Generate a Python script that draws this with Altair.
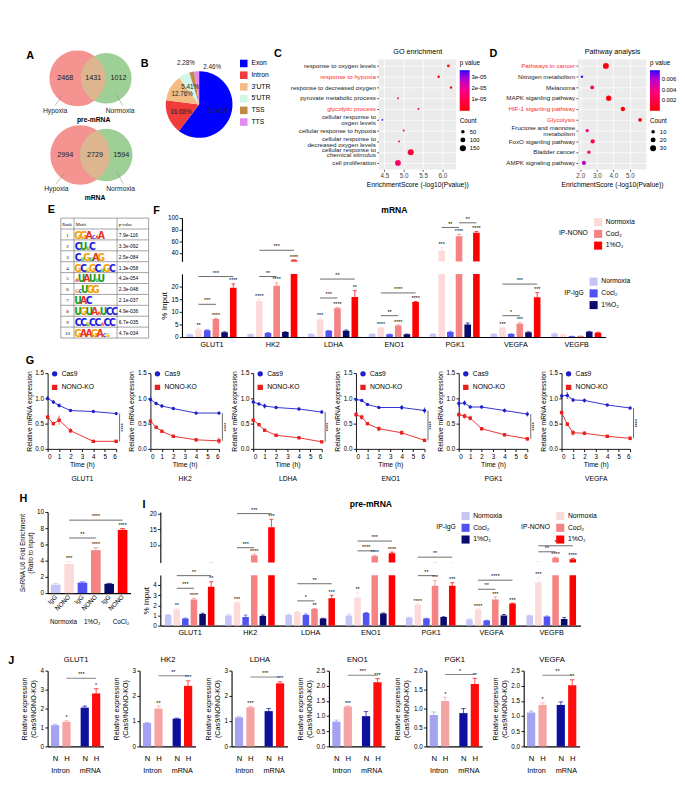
import json
import numpy as np
import pandas as pd
import altair as alt

FONT = "Liberation Sans"
NARROW = "Liberation Sans Narrow, DejaVu Sans Condensed, Liberation Sans, sans-serif"
SERIF = "Liberation Serif"
NB = "\u00a0"

# ======================= DATA =======================
venn_sets = ["Hypoxia", "Normoxia"]
venn_titles = ["pre-mRNA", "mRNA"]
venn_counts = [[2468, 1431, 1012], [2994, 2729, 1594]]

pie_features = ["Exon", "Intron", "3'UTR", "5'UTR", "TSS", "TTS"]
pie_pct = [60.41, 16.68, 12.76, 5.41, 2.28, 2.46]

go_terms = [
    "response to oxygen levels", "response to hypoxia", "response to decreased oxygen",
    "pyruvate metabolic process", "glycolytic process", "cellular response to|oxgen levels",
    "cellular response to hypoxia", "cellular response to|decreased oxygen levels",
    "cellular response to|chemical stimulus", "cell proliferation",
]
go_score = [6.15, 5.90, 6.22, 4.85, 5.38, 4.45, 5.00, 4.88, 5.18, 4.85]
go_count = [24, 22, 22, 12, 12, 10, 13, 13, 150, 135]
go_pvalue = [1e-7, 3e-7, 1e-7, 1.4e-5, 5e-6, 3.5e-5, 8e-6, 1.2e-5, 6e-6, 1.4e-5]
go_highlight = ["response to hypoxia", "glycolytic process"]

kegg_terms = [
    "Pathways in cancer", "Nitrogen metabolism", "Melanoma", "MAPK siganling pathway",
    "HIF-1 siganling pathway", "Glycolysis", "Fructose and mannose|metabolism",
    "FoxO siganling pathway", "Bladder cancer", "AMPK signaling pathway",
]
kegg_score = [3.55, 2.10, 2.72, 3.72, 4.58, 5.62, 2.42, 2.75, 2.52, 2.22]
kegg_count = [30, 4, 11, 24, 17, 11, 9, 15, 9, 14]
kegg_pvalue = [2.8e-4, 7.5e-3, 1.9e-3, 1.9e-4, 2.6e-5, 2.4e-6, 3.8e-3, 1.8e-3, 3.0e-3, 5.8e-3]
kegg_highlight = ["Pathways in cancer", "HIF-1 siganling pathway", "Glycolysis"]

motif_rank = [1, 2, 3, 4, 5, 6, 7, 8, 9, 10]
motif_seq = ["GGAcaA", "CUuC", "CuGuAG", "GCgGCuGC", "aUAUuU", "gcUGG", "UAC", "UGUAaUCC", "CCuCCaCC", "GAAGAcg"]
motif_pvalue = ["7.9e-116", "3.3e-092", "2.5e-084", "1.3e-058", "4.2e-054",
                "2.3e-048", "2.1e-037", "4.9e-036", "6.7e-035", "4.7e-034"]

chip_genes = ["GLUT1", "HK2", "LDHA", "ENO1", "PGK1", "VEGFA", "VEGFB"]
mrna_vals = [
    [1.0, 3.0, 2.7, 7.2, 1.9, 19.6],
    [1.1, 14.2, 1.6, 20.3, 2.0, 28.0],
    [1.2, 7.0, 2.5, 11.4, 2.5, 15.9],
    [1.2, 3.7, 1.1, 4.6, 1.1, 13.9],
    [1.2, 44.0, 2.0, 69.0, 5.0, 75.0],
    [1.2, 3.8, 1.2, 5.3, 1.9, 15.8],
    [1.3, 1.0, 0.3, 0.4, 2.1, 1.7],
]
mrna_errs = [
    [0.1, 0.4, 0.2, 0.2, 0.2, 1.5],
    [0.1, 0.8, 0.2, 1.2, 0.1, 0.6],
    [0.1, 0.3, 0.1, 0.3, 0.3, 2.5],
    [0.1, 0.1, 0.1, 0.2, 0.1, 0.2],
    [0.1, 6.0, 0.3, 3.5, 0.6, 2.0],
    [0.1, 0.2, 0.1, 0.4, 0.2, 1.8],
    [0.3, 0.1, 0.05, 0.05, 0.2, 0.2],
]
mrna_stars = [
    ["", "**", "", "****", "", "****"],
    ["", "****", "", "****", "", "****"],
    ["", "***", "", "****", "", "**"],
    ["", "****", "", "****", "", "****"],
    ["", "***", "", "****", "", "****"],
    ["", "***", "", "***", "", "***"],
    ["", "", "", "", "", ""],
]
mrna_brackets = [
    ("GLUT1", 1, 3, 13.0, "***"), ("GLUT1", 1, 5, 24.0, "***"),
    ("HK2", 1, 3, 24.0, "**"), ("HK2", 1, 5, 45.0, "***"),
    ("LDHA", 1, 3, 15.5, "***"), ("LDHA", 1, 5, 23.0, "**"),
    ("ENO1", 1, 3, 8.5, "**"), ("ENO1", 1, 5, 17.5, "****"),
    ("PGK1", 1, 3, 84.0, "**"), ("PGK1", 3, 5, 92.0, "**"),
    ("VEGFA", 1, 3, 8.5, "*"), ("VEGFA", 1, 5, 21.0, "***"),
]

decay_genes = ["GLUT1", "HK2", "LDHA", "ENO1", "PGK1", "VEGFA"]
time_h = [0, 0.5, 1, 2, 4, 6]
cas9_expr = [
    [1.00, 0.93, 0.86, 0.76, 0.74, 0.70],
    [0.98, 0.90, 0.85, 0.80, 0.71, 0.71],
    [0.93, 0.89, 0.85, 0.82, 0.79, 0.73],
    [0.98, 0.96, 0.88, 0.82, 0.82, 0.76],
    [0.90, 0.91, 0.83, 0.83, 0.76, 0.69],
    [1.05, 1.06, 0.97, 0.96, 0.87, 0.81],
]
ko_expr = [
    [0.63, 0.50, 0.57, 0.36, 0.15, 0.15],
    [0.55, 0.43, 0.35, 0.25, 0.18, 0.16],
    [0.57, 0.48, 0.37, 0.27, 0.22, 0.14],
    [0.68, 0.63, 0.50, 0.40, 0.32, 0.17],
    [0.68, 0.65, 0.61, 0.40, 0.28, 0.20],
    [0.72, 0.49, 0.32, 0.31, 0.25, 0.21],
]
cas9_err = [
    [0.05, 0.04, 0.04, 0.03, 0.02, 0.02],
    [0.06, 0.03, 0.03, 0.02, 0.03, 0.03],
    [0.04, 0.02, 0.05, 0.03, 0.03, 0.03],
    [0.02, 0.02, 0.02, 0.02, 0.05, 0.06],
    [0.07, 0.05, 0.03, 0.03, 0.04, 0.05],
    [0.05, 0.07, 0.04, 0.04, 0.02, 0.02],
]
ko_err = [
    [0.03, 0.02, 0.09, 0.05, 0.02, 0.03],
    [0.03, 0.02, 0.02, 0.02, 0.03, 0.07],
    [0.02, 0.02, 0.02, 0.02, 0.02, 0.02],
    [0.05, 0.05, 0.02, 0.05, 0.05, 0.03],
    [0.04, 0.05, 0.05, 0.03, 0.03, 0.04],
    [0.04, 0.04, 0.06, 0.04, 0.02, 0.04],
]

h_labels = ["IgG", "NONO", "IgG", "NONO", "IgG", "NONO"]
h_conditions = ["Normoxia", "1%O₂", "CoCl₂"]
h_vals = [1.05, 3.6, 1.3, 5.3, 1.15, 7.8]
h_errs = [0.15, 0.3, 0.1, 0.3, 0.05, 0.15]
h_stars = ["", "***", "", "****", "", "****"]
h_brackets = [(1, 3, 6.8, "**"), (1, 5, 9.0, "****")]

pre_vals = [
    [1.05, 1.6, 0.7, 2.6, 1.15, 3.85],
    [1.0, 2.3, 0.85, 6.8, 0.95, 15.7],
    [1.05, 1.35, 1.05, 1.65, 0.7, 2.7],
    [1.0, 2.75, 1.25, 6.5, 1.2, 7.4],
    [0.8, 2.1, 0.7, 3.95, 0.85, 3.95],
    [0.6, 1.6, 0.5, 2.6, 1.0, 2.2],
    [1.0, 4.3, 0.9, 6.0, 0.65, 5.5],
]
pre_errs = [
    [0.05, 0.1, 0.05, 0.1, 0.08, 0.5],
    [0.1, 0.05, 0.2, 0.4, 0.1, 2.5],
    [0.1, 0.05, 0.1, 0.05, 0.03, 0.3],
    [0.15, 0.5, 0.05, 0.2, 0.05, 0.4],
    [0.02, 0.05, 0.03, 0.5, 0.03, 0.3],
    [0.05, 0.05, 0.03, 0.25, 0.1, 0.03],
    [0.03, 0.5, 0.05, 0.2, 0.15, 0.3],
]
pre_stars = [
    ["", "**", "", "****", "", "**"],
    ["", "***", "", "****", "", "***"],
    ["", "", "", "**", "", "***"],
    ["", "**", "", "****", "", "****"],
    ["", "****", "", "***", "", "***"],
    ["", "****", "", "***", "", "***"],
    ["", "***", "", "****", "", "****"],
]
pre_brackets = [
    ("GLUT1", 1, 3, 3.7, "***"), ("GLUT1", 1, 5, 4.95, "**"),
    ("HK2", 1, 3, 9.2, "***"), ("HK2", 1, 5, 20.0, "***"),
    ("LDHA", 1, 3, 2.45, "*"), ("LDHA", 1, 5, 4.15, "**"),
    ("ENO1", 1, 3, 8.2, "****"), ("ENO1", 1, 5, 11.3, "***"),
    ("PGK1", 1, 3, 4.95, "**"), ("PGK1", 1, 5, 6.2, "**"),
    ("VEGFA", 1, 3, 3.6, "**"), ("VEGFA", 1, 5, 4.5, "****"),
    ("VEGFB", 1, 3, 7.9, "**"), ("VEGFB", 1, 5, 9.8, "*"),
]

ratio_genes = ["GLUT1", "HK2", "LDHA", "ENO1", "PGK1", "VEGFA"]
ratio_groups = ["Intron", "mRNA"]
ratio_bar_labels = ["N", "H", "N", "H"]
ratio_vals = [
    [1.12, 1.30, 2.05, 2.80],
    [0.93, 1.50, 1.10, 2.40],
    [1.15, 1.55, 1.40, 2.50],
    [0.82, 1.32, 1.00, 2.12],
    [0.83, 1.20, 0.88, 1.65],
    [1.12, 1.37, 1.37, 2.02],
]
ratio_errs = [
    [0.05, 0.06, 0.08, 0.25],
    [0.02, 0.10, 0.02, 0.20],
    [0.03, 0.03, 0.10, 0.06],
    [0.05, 0.02, 0.15, 0.12],
    [0.08, 0.10, 0.12, 0.15],
    [0.05, 0.07, 0.10, 0.18],
]
ratio_stars = [
    ["", "*", "", "*"], ["", "**", "", "***"], ["", "***", "", "***"],
    ["", "***", "", "***"], ["", "*", "", "**"], ["", "*", "", "**"],
]
ratio_brackets = [(3.6, "***"), (2.8, "**"), (2.75, "***"), (2.35, "***"), (1.9, "*"), (2.35, "**")]
ratio_ymax = [4, 3, 3, 2.5, 2.0, 2.5]
ratio_ticks = [[0, 1, 2, 3, 4], [0, 1, 2, 3], [0, 1, 2, 3],
               [0, 0.5, 1, 1.5, 2, 2.5], [0, 0.5, 1, 1.5, 2], [0, 0.5, 1, 1.5, 2, 2.5]]

# ======================= STYLE =======================
PIE_COLORS = ["#0000FF", "#F23B3B", "#F4BB85", "#CFF6E6", "#BF8A47", "#E38BF2"]
VENN_PINK, VENN_GREEN, VENN_MIX = "#F4938F", "#9ECF96", "#DDB58F"
IGG_COLORS = ["#C4C4F7", "#5252F2", "#0B0B6E"]
NONO_COLORS = ["#FCDADA", "#F58383", "#FF0000"]
COND_NAMES = ["Normoxia", "Cocl₂", "1%O₂"]
IGG_NAMES = [c + NB for c in COND_NAMES]
BAR_LAYOUT = [("IgG", 0), ("NONO", 0), ("IgG", 1), ("NONO", 1), ("IgG", 2), ("NONO", 2)]
H_COLORS = ["#C4C4F7", "#FCDADA", "#5252F2", "#F58383", "#0B0B6E", "#FF0000"]
J_COLORS = ["#A3A3F2", "#F5A3A3", "#0F0F9E", "#FF0D0D"]
G_BLUE, G_RED = "#1E1ECC", "#E8201E"
LETTER_COLORS = {"A": "#E8321E", "C": "#1C1CE0", "G": "#F5A000", "U": "#1B9E1B"}
VENN_GEOM = [(47, 31, 79, 28, 33), (50, 33, 79, 29, 118)]
GROUP_STEP = 7
J_STEP = 2.6


def letter(text, offset=2, left=False):
    if left:
        return alt.TitleParams(text, orient="left", angle=0, anchor="end", align="right", baseline="top",
                               frame="bounds", fontSize=12, fontWeight="bold", font=FONT, color="black",
                               offset=offset)
    return alt.TitleParams(text, anchor="start", frame="bounds", fontSize=12,
                           fontWeight="bold", font=FONT, color="black", offset=offset)


def top_title_axis(text, size=8, weight="normal", pad=3):
    return alt.Axis(orient="top", title=text, labels=False, ticks=False, domain=False, grid=False,
                    titleFontSize=size, titleFontWeight=weight, titlePadding=pad)


# ======================= A =======================
def panel_a():
    X0, W, Y0, H = 14, 115, 12, 166
    xs = alt.Scale(domain=[X0, W], nice=False, zero=False)
    ys = alt.Scale(domain=[Y0, H], nice=False, zero=False, reverse=True)
    pink, green, lens, texts, leaders = [], [], [], [], []
    for k, (cx1, r1, cx2, r2, cy) in enumerate(VENN_GEOM):
        for cx, r, store in ((cx1, r1, pink), (cx2, r2, green)):
            t = np.linspace(-r, r, 120)
            w = np.sqrt(np.clip(r * r - t * t, 0, None))
            store += [{"venn": k, "y": cy + a, "x1": cx - b, "x2": cx + b} for a, b in zip(t, w)]
        x0 = (r1 ** 2 - r2 ** 2 + cx2 ** 2 - cx1 ** 2) / (2 * (cx2 - cx1))
        h = np.sqrt(r1 ** 2 - (x0 - cx1) ** 2)
        t = np.linspace(-h, h, 120)
        xl = cx2 - np.sqrt(np.clip(r2 * r2 - t * t, 0, None))
        xr = cx1 + np.sqrt(np.clip(r1 * r1 - t * t, 0, None))
        lens += [{"venn": k, "y": cy + a, "x1": b, "x2": c} for a, b, c in zip(t, xl, xr)]
        c = venn_counts[k]
        texts += [
            {"x": ((cx1 - r1) + (cx2 - r2)) / 2, "y": cy, "t": str(c[0]), "kind": "n"},
            {"x": ((cx2 - r2) + (cx1 + r1)) / 2, "y": cy, "t": str(c[1]), "kind": "n"},
            {"x": ((cx1 + r1) + (cx2 + r2)) / 2, "y": cy, "t": str(c[2]), "kind": "n"},
            {"x": cx1 - 0.8 * r1, "y": cy + r1 + 5, "t": venn_sets[0], "kind": "s"},
            {"x": cx2 + 0.55 * r2, "y": cy + r1 + 5, "t": venn_sets[1], "kind": "s"},
            {"x": (cx1 + cx2) / 2 + 2, "y": cy + r1 + 15, "t": venn_titles[k], "kind": "b"},
        ]
        leaders += [
            {"x": cx1 - 0.55 * r1, "y": cy + 0.62 * r1, "x2": cx1 - 0.8 * r1, "y2": cy + r1 - 1},
            {"x": cx2 + 0.4 * r2, "y": cy + 0.65 * r2, "x2": cx2 + 0.65 * r2, "y2": cy + r1 - 1},
        ]

    def area(rows, color):
        return alt.Chart(pd.DataFrame(rows)).mark_area(orient="horizontal", color=color, opacity=1).encode(
            y=alt.Y("y:Q", scale=ys, axis=None), x=alt.X("x1:Q", scale=xs, axis=None),
            x2="x2:Q", detail="venn:N")

    tdf = pd.DataFrame(texts)
    enc = dict(x=alt.X("x:Q", scale=xs, axis=None), y=alt.Y("y:Q", scale=ys, axis=None), text="t:N")
    t_n = alt.Chart(tdf).transform_filter("datum.kind == 'n'").mark_text(fontSize=8, color="#222").encode(**enc)
    t_s = alt.Chart(tdf).transform_filter("datum.kind == 's'").mark_text(fontSize=7.5, color="#222").encode(**enc)
    t_b = alt.Chart(tdf).transform_filter("datum.kind == 'b'").mark_text(fontSize=7.5, fontWeight="bold").encode(**enc)
    rules = alt.Chart(pd.DataFrame(leaders)).mark_rule(color="#8a8a8a", strokeWidth=0.6).encode(
        x=alt.X("x:Q", scale=xs, axis=None), y=alt.Y("y:Q", scale=ys, axis=None), x2="x2:Q", y2="y2:Q")
    return alt.layer(area(pink, VENN_PINK), area(green, VENN_GREEN), area(lens, VENN_MIX),
                     rules, t_n, t_s, t_b).properties(width=W - X0, height=H - Y0, title=letter("A", 1, True))


# ======================= B =======================
def panel_b():
    df = pd.DataFrame({"feature": pie_features, "pct": pie_pct, "order": range(len(pie_features))})
    base = alt.Chart(df).transform_calculate(
        inner="datum.pct > 4 ? format(datum.pct, '.2f') + '%' : ''",
        tss="datum.feature == 'TSS' ? format(datum.pct, '.2f') + '%' : ''",
        tts="datum.feature == 'TTS' ? format(datum.pct, '.2f') + '%' : ''",
    ).encode(theta=alt.Theta("pct:Q", stack=True), order=alt.Order("order:Q", sort="ascending"))
    arcs = base.mark_arc(outerRadius=37).encode(
        color=alt.Color("feature:N", scale=alt.Scale(domain=pie_features, range=PIE_COLORS),
                        legend=alt.Legend(title=None, orient="right", symbolType="square", symbolSize=70,
                                          symbolStrokeWidth=0, labelFontSize=7.5, rowPadding=4, offset=6)))
    lab_in = base.mark_text(radius=22, fontSize=7, color="#222").encode(text="inner:N")
    lab_tss = base.mark_text(radius=47, fontSize=7, color="#222", dx=-4).encode(text="tss:N")
    lab_tts = base.mark_text(radius=46, fontSize=7, color="#222", dx=18, dy=4).encode(text="tts:N")
    return alt.layer(arcs, lab_in, lab_tss, lab_tts).properties(width=78, height=100, title=letter("B", 0, True))


# ======================= C / D =======================
def dot_panel(letter_txt, title, terms, score, count, pvals, highlight, xdom, xticks,
              size_dom, size_rng, size_vals, p_dom, p_vals, p_expr, width, height):
    df = pd.DataFrame({"term": terms, "score": score, "count": count, "p": pvals})
    test = " || ".join("datum.value == " + json.dumps(t) for t in highlight)
    xs = alt.Scale(domain=xdom, nice=False, zero=False)
    Y = alt.Y("term:N", sort=terms, scale=alt.Scale(padding=0.6),
              axis=alt.Axis(title=None, labelExpr="split(datum.label, '|')",
                            labelColor={"condition": {"test": test, "value": "#FF2A2A"}, "value": "#222222"},
                            labelOffset={"condition": {"test": "indexof(datum.value, '|') >= 0", "value": -3.2},
                                         "value": 0},
                            labelFontSize=6.9, labelLimit=220, labelLineHeight=6.6, grid=True,
                            gridColor="white", gridWidth=0.8, domain=False, tickColor="#444", tickSize=2))
    pts = alt.Chart(df).mark_circle(opacity=1).encode(
        x=alt.X("score:Q", scale=xs,
                axis=alt.Axis(values=xticks, format=".1f", title="EnrichmentScore (-log10(Pvalue))",
                              grid=True, gridColor="white", gridWidth=0.8, domain=False, tickColor="#444",
                              tickSize=2, labelColor="#444", labelFontSize=7, titleFontSize=7.5)),
        y=Y,
        size=alt.Size("count:Q", scale=alt.Scale(domain=size_dom, range=size_rng),
                      legend=alt.Legend(title="Count", values=size_vals, symbolFillColor="black",
                                        symbolStrokeWidth=0, symbolType="circle", labelFontSize=6.5,
                                        titleFontSize=7, orient="right", offset=4, rowPadding=2)),
        color=alt.Color("p:Q", scale=alt.Scale(domain=p_dom, range=["#FF0000", "#0000FF"]),
                        legend=alt.Legend(title="p value", values=p_vals, labelExpr=p_expr, gradientLength=45,
                                          gradientThickness=11, labelFontSize=6.5, titleFontSize=7,
                                          orient="right", offset=4)),
    )
    ttl = alt.Chart(df).mark_point(opacity=0).encode(
        x=alt.X("score:Q", scale=xs, axis=top_title_axis(title, 8, "normal", 4)), y=Y)
    return alt.layer(pts, ttl).resolve_axis(x="independent").properties(
        width=width, height=height, view=alt.ViewBackground(fill="#EBEBEB", stroke=None),
        title=letter(letter_txt, 1, True))


# ======================= E =======================
def panel_e():
    cols = [0, 15, 64, 100]
    nrow = len(motif_rank) + 1
    xs = alt.Scale(domain=[-15, 100], nice=False, zero=False)
    ys = alt.Scale(domain=[0, nrow], nice=False, zero=False, reverse=True)
    X = lambda f: alt.X(f + ":Q", scale=xs, axis=None)
    Y = lambda f: alt.Y(f + ":Q", scale=ys, axis=None)
    hl = pd.DataFrame({"y": list(range(nrow + 1)), "x": cols[0], "x2": cols[-1]})
    vl = pd.DataFrame({"x": cols, "y": 0, "y2": nrow})
    head = pd.DataFrame({"x": [cols[0] + 1.5, cols[1] + 2, cols[2] + 2], "y": 0.55,
                         "t": ["Rank", "Motif", "p-value"]})
    rows = pd.DataFrame({"rank": [str(r) for r in motif_rank], "p": motif_pvalue,
                         "y": [i + 1.55 for i in range(len(motif_rank))],
                         "xr": (cols[0] + cols[1]) / 2, "xp": cols[2] + 2})
    letters = []
    for i, seq in enumerate(motif_seq):
        x = cols[1] + 1.5
        for chh in seq:
            big = chh.isupper()
            w = 6.3 if big else 3.8
            letters.append({"x": x + w / 2, "y": i + 1.9, "ch": chh.upper(), "big": big,
                            "col": LETTER_COLORS[chh.upper()]})
            x += w
    ldf = pd.DataFrame(letters)
    layers = [
        alt.Chart(hl).mark_rule(color="#555", strokeWidth=0.6).encode(x=X("x"), x2="x2:Q", y=Y("y")),
        alt.Chart(vl).mark_rule(color="#555", strokeWidth=0.6).encode(x=X("x"), y=Y("y"), y2="y2:Q"),
        alt.Chart(head).mark_text(font=SERIF, fontSize=5, align="left", baseline="middle").encode(
            x=X("x"), y=Y("y"), text="t:N"),
        alt.Chart(rows).mark_text(font=SERIF, fontSize=5.5, baseline="middle").encode(
            x=X("xr"), y=Y("y"), text="rank:N"),
        alt.Chart(rows).mark_text(fontSize=5.5, align="left", baseline="middle").encode(
            x=X("xp"), y=Y("y"), text="p:N"),
        alt.Chart(ldf).transform_filter("datum.big").mark_text(
            font=NARROW, fontSize=11.5, fontWeight="bold", baseline="alphabetic").encode(
            x=X("x"), y=Y("y"), text="ch:N", color=alt.Color("col:N", scale=None)),
        alt.Chart(ldf).transform_filter("!datum.big").mark_text(
            font=NARROW, fontSize=5.5, fontWeight="bold", baseline="alphabetic").encode(
            x=X("x"), y=Y("y"), text="ch:N", color=alt.Color("col:N", scale=None)),
    ]
    return alt.layer(*layers).properties(width=112, height=133, title=letter("E", 2))


# ======================= F / I (broken axis bars) =======================
def broken_bar(letter_txt, genes, vals, errs, stars, brackets, up_dom, lo_dom, up_ticks, lo_ticks,
               up_h, lo_h, width, gap, title, up_legends, lo_legends):
    recs = []
    for gi in range(len(genes)):
        for b, (grp, ci) in enumerate(BAR_LAYOUT):
            pos = gi * GROUP_STEP + b
            v, e = vals[gi][b], errs[gi][b]
            recs.append(dict(pos=pos, x1=pos - 0.38, x2=pos + 0.38, cl=pos - 0.22, cr=pos + 0.22,
                             v=v, top=v + e, zero=0.0, grp=grp, cond=COND_NAMES[ci], icond=IGG_NAMES[ci],
                             col=(IGG_COLORS if grp == "IgG" else NONO_COLORS)[ci], star=stars[gi][b]))
    df = pd.DataFrame(recs)
    brk = pd.DataFrame([dict(x1=genes.index(g) * GROUP_STEP + b1, x2=genes.index(g) * GROUP_STEP + b2,
                             xm=genes.index(g) * GROUP_STEP + (b1 + b2) / 2, y=lvl, lab=lab)
                        for g, b1, b2, lvl, lab in brackets])
    split = lo_dom[1]
    xs = alt.Scale(domain=[-0.9, GROUP_STEP * len(genes) - 1.1], nice=False, zero=False)
    centers = [gi * GROUP_STEP + 2.5 for gi in range(len(genes))]
    lab_expr = json.dumps(genes) + "[round((datum.value - 2.5) / %d)]" % GROUP_STEP

    def segment(dom, ticks, h, upper):
        ys = alt.Scale(domain=dom, nice=False, zero=False)
        if upper:
            xaxis = None
            yaxis = alt.Axis(values=ticks, title=None, domainWidth=1.2, labelFontSize=7)
            keep, bkeep = "datum.top > %g" % split, "datum.y > %g" % split
            leg_n, leg_i = up_legends
        else:
            xaxis = alt.Axis(values=centers, labelExpr=lab_expr, title=None, ticks=False, labelFontSize=8,
                             labelPadding=4, domainWidth=1.2)
            yaxis = alt.Axis(values=ticks, title="% Input", titleFontSize=9, domainWidth=1.2, labelFontSize=7)
            keep, bkeep = "datum.top <= %g" % split, "datum.y <= %g" % split
            leg_n, leg_i = lo_legends
        X = lambda f, ax=None: alt.X(f + ":Q", scale=xs, axis=ax)
        Y = lambda f: alt.Y(f + ":Q", scale=ys, axis=yaxis)
        base = alt.Chart(df)
        igg = base.transform_filter("datum.grp == 'IgG'").mark_bar(clip=True).encode(
            x=X("x1", xaxis), x2="x2:Q", y=Y("v"), y2="zero:Q",
            fill=alt.Fill("icond:N", scale=alt.Scale(domain=IGG_NAMES, range=IGG_COLORS), legend=leg_i))
        nono = base.transform_filter("datum.grp == 'NONO'").mark_bar(clip=True).encode(
            x=X("x1"), x2="x2:Q", y=Y("v"), y2="zero:Q",
            color=alt.Color("cond:N", scale=alt.Scale(domain=COND_NAMES, range=NONO_COLORS), legend=leg_n))
        ebar = base.mark_rule(clip=True, strokeWidth=0.8).encode(
            x=X("pos"), y=Y("v"), y2="top:Q", stroke=alt.Stroke("col:N", scale=None))
        caps = base.mark_rule(clip=True, strokeWidth=0.8).encode(
            x=X("cl"), x2="cr:Q", y=Y("top"), stroke=alt.Stroke("col:N", scale=None))
        st = base.transform_filter("datum.star != '' && " + keep).mark_text(
            fontSize=6, baseline="bottom", dy=-0.5).encode(x=X("pos"), y=Y("top"), text="star:N")
        bsub = alt.Chart(brk).transform_filter(bkeep)
        brule = bsub.mark_rule(strokeWidth=0.8, color="#333").encode(x=X("x1"), x2="x2:Q", y=Y("y"))
        btxt = bsub.mark_text(fontSize=6, baseline="bottom", dy=-1).encode(x=X("xm"), y=Y("y"), text="lab:N")
        layers = [igg, nono, ebar, caps, st, brule, btxt]
        if upper:
            layers.append(base.mark_bar(opacity=0, clip=True).encode(
                x=X("x1", top_title_axis(title, 9.5, "bold", 4)), x2="x2:Q", y=Y("v"), y2="zero:Q"))
        ch = alt.layer(*layers).resolve_axis(x="independent").properties(width=width, height=h)
        if upper:
            ch = ch.properties(title=letter(letter_txt, 1, True))
        return ch

    up = segment(up_dom, up_ticks, up_h, True)
    lo = segment(lo_dom, lo_ticks, lo_h, False)
    return alt.vconcat(up, lo, spacing=gap).resolve_scale(
        color="independent", fill="independent").resolve_legend(color="independent", fill="independent")


def legend_box(title, x, y):
    return alt.Legend(title=title, orient="none", legendX=x, legendY=y, titleOrient="left",
                      titleAnchor="middle", symbolType="square", symbolSize=80, symbolStrokeWidth=0,
                      labelFontSize=7.5, titleFontSize=7.5, titleFontWeight="normal", rowPadding=4,
                      titlePadding=6)


# ======================= G =======================
def panel_g(k):
    recs = []
    for grp, vals, errs in (("Cas9", cas9_expr[k], cas9_err[k]), ("NONO-KO", ko_expr[k], ko_err[k])):
        for t, v, e in zip(time_h, vals, errs):
            recs.append({"group": grp, "t": t, "v": v, "lo": v - e, "hi": v + e})
    df = pd.DataFrame(recs)
    xs = alt.Scale(domain=[0, 6], nice=False, zero=False)
    ys = alt.Scale(domain=[0, 1.5], nice=False)
    xaxis = alt.Axis(values=list(range(7)), format="d", title=["Time (h)", decay_genes[k]], titlePadding=2,
                     titleLineHeight=16, titleFontSize=7.5)
    yaxis = alt.Axis(values=[0, 0.5, 1.0, 1.5], format=".1f", title="Relative mRNA expression", titlePadding=2)
    leg = alt.Legend(title=None, orient="none", legendX=4, legendY=-3, labelFontSize=7.5, symbolSize=20,
                     rowPadding=4)
    cscale = alt.Scale(domain=["Cas9", "NONO-KO"], range=[G_BLUE, G_RED])
    X = lambda f: alt.X(f + ":Q", scale=xs, axis=xaxis)
    Y = lambda f: alt.Y(f + ":Q", scale=ys, axis=yaxis)
    base = alt.Chart(df)
    line = base.mark_line(strokeWidth=1).encode(x=X("t"), y=Y("v"),
                                                color=alt.Color("group:N", scale=cscale, legend=leg))
    err = base.mark_rule(strokeWidth=0.8).encode(x=X("t"), y=Y("lo"), y2="hi:Q",
                                                 color=alt.Color("group:N", scale=cscale, legend=leg))
    pts = base.mark_point(filled=True, size=14, opacity=1).encode(
        x=X("t"), y=Y("v"), color=alt.Color("group:N", scale=cscale, legend=leg),
        shape=alt.Shape("group:N", scale=alt.Scale(domain=["Cas9", "NONO-KO"], range=["circle", "square"]),
                        legend=leg))
    last = max(time_h)
    sig = pd.DataFrame({"x": [last + 0.3], "xt": [last + 0.6], "lo": [ko_expr[k][-1]],
                        "hi": [cas9_expr[k][-1]], "mid": [(ko_expr[k][-1] + cas9_expr[k][-1]) / 2],
                        "t": ["****"]})
    srule = alt.Chart(sig).mark_rule(strokeWidth=0.8, color="#333").encode(x=X("x"), y=Y("lo"), y2="hi:Q")
    stext = alt.Chart(sig).mark_text(angle=270, fontSize=6).encode(x=X("xt"), y=Y("mid"), text="t:N")
    ch = alt.layer(line, err, pts, srule, stext).properties(width=76, height=84)
    if k == 0:
        ch = ch.properties(title=letter("G", 3))
    return ch


# ======================= H =======================
def panel_h():
    n = len(h_vals)
    df = pd.DataFrame({"pos": range(n), "x1": [p - 0.36 for p in range(n)], "x2": [p + 0.36 for p in range(n)],
                       "cl": [p - 0.2 for p in range(n)], "cr": [p + 0.2 for p in range(n)],
                       "v": h_vals, "top": [v + e for v, e in zip(h_vals, h_errs)], "zero": 0.0,
                       "col": H_COLORS, "star": h_stars})
    brk = pd.DataFrame([{"x1": a, "x2": b, "xm": (a + b) / 2, "y": y, "lab": lab} for a, b, y, lab in h_brackets])
    xs = alt.Scale(domain=[-0.6, n - 0.4], nice=False, zero=False)
    ys = alt.Scale(domain=[0, 10], nice=False)
    htitle = h_conditions[0] + NB * 4 + h_conditions[1] + NB * 7 + h_conditions[2]
    xaxis = alt.Axis(values=list(range(n)), labelExpr=json.dumps(h_labels) + "[datum.value]", labelAngle=-45,
                     labelAlign="right", labelBaseline="middle", ticks=False, labelPadding=3, labelFontSize=7,
                     labelOverlap=False, title=htitle, titleFontSize=7, titlePadding=8, domainWidth=1.2)
    yaxis = alt.Axis(values=[0, 2, 4, 6, 8, 10], title=["SnRNA U6 Fold Enrichment", "(Ratio to input)"],
                     titleFontSize=7, domainWidth=1.2)
    X = lambda f: alt.X(f + ":Q", scale=xs, axis=xaxis)
    Y = lambda f: alt.Y(f + ":Q", scale=ys, axis=yaxis)
    base = alt.Chart(df)
    bars = base.mark_bar().encode(x=X("x1"), x2="x2:Q", y=Y("v"), y2="zero:Q",
                                  color=alt.Color("col:N", scale=None))
    ebar = base.mark_rule(strokeWidth=0.8).encode(x=X("pos"), y=Y("v"), y2="top:Q",
                                                  stroke=alt.Stroke("col:N", scale=None))
    caps = base.mark_rule(strokeWidth=0.8).encode(x=X("cl"), x2="cr:Q", y=Y("top"),
                                                  stroke=alt.Stroke("col:N", scale=None))
    st = base.mark_text(fontSize=6, baseline="bottom", dy=-0.5).encode(x=X("pos"), y=Y("top"), text="star:N")
    brule = alt.Chart(brk).mark_rule(strokeWidth=0.8, color="#333").encode(x=X("x1"), x2="x2:Q", y=Y("y"))
    btxt = alt.Chart(brk).mark_text(fontSize=6, baseline="bottom", dy=-1).encode(x=X("xm"), y=Y("y"), text="lab:N")
    return alt.layer(bars, ebar, caps, st, brule, btxt).properties(width=92, height=90, title=letter("H", 4))


# ======================= J =======================
def panel_j(k):
    pos = [g * J_STEP + i for g in range(2) for i in range(2)]
    vals, errs = ratio_vals[k], ratio_errs[k]
    df = pd.DataFrame({"pos": pos, "x1": [p - 0.36 for p in pos], "x2": [p + 0.36 for p in pos],
                       "cl": [p - 0.2 for p in pos], "cr": [p + 0.2 for p in pos], "v": vals,
                       "top": [v + e for v, e in zip(vals, errs)], "zero": 0.0, "col": J_COLORS,
                       "star": ratio_stars[k]})
    lvl, lab = ratio_brackets[k]
    brk = pd.DataFrame({"x1": [pos[1]], "x2": [pos[3]], "xm": [(pos[1] + pos[3]) / 2], "y": [lvl], "lab": [lab]})
    xs = alt.Scale(domain=[-0.65, pos[-1] + 0.65], nice=False, zero=False)
    ys = alt.Scale(domain=[0, ratio_ymax[k]], nice=False)
    fmt = "d" if all(float(t).is_integer() for t in ratio_ticks[k]) else ".1f"
    xaxis = alt.Axis(values=pos, labelExpr=json.dumps(ratio_bar_labels) + "[indexof(" + json.dumps(pos) + ", datum.value)]",
                     ticks=False, labelFontSize=8.5, labelPadding=9, title=(NB * 5).join(ratio_groups),
                     titleFontSize=8, titlePadding=6, domainWidth=1.2)
    yaxis = alt.Axis(values=ratio_ticks[k], format=fmt, title=["Relative expression", "(Cas9/NONO-KO)"],
                     titleFontSize=8, domainWidth=1.2)
    X = lambda f, ax=None: alt.X(f + ":Q", scale=xs, axis=ax)
    Y = lambda f: alt.Y(f + ":Q", scale=ys, axis=yaxis)
    base = alt.Chart(df)
    bars = base.mark_bar().encode(x=X("x1", xaxis), x2="x2:Q", y=Y("v"), y2="zero:Q",
                                  color=alt.Color("col:N", scale=None))
    ebar = base.mark_rule(strokeWidth=0.8).encode(x=X("pos"), y=Y("v"), y2="top:Q",
                                                  stroke=alt.Stroke("col:N", scale=None))
    caps = base.mark_rule(strokeWidth=0.8).encode(x=X("cl"), x2="cr:Q", y=Y("top"),
                                                  stroke=alt.Stroke("col:N", scale=None))
    st = base.mark_text(fontSize=6, baseline="bottom", dy=-0.5).encode(x=X("pos"), y=Y("top"), text="star:N")
    brule = alt.Chart(brk).mark_rule(strokeWidth=0.8, color="#555").encode(x=X("x1"), x2="x2:Q", y=Y("y"))
    btxt = alt.Chart(brk).mark_text(fontSize=6, baseline="bottom", dy=-1).encode(x=X("xm"), y=Y("y"), text="lab:N")
    ttl = base.mark_bar(opacity=0, clip=True).encode(x=X("x1", top_title_axis(ratio_genes[k], 8.5, "normal", 8)),
                                                     x2="x2:Q", y=Y("v"), y2="zero:Q")
    ch = alt.layer(bars, ebar, caps, st, brule, btxt, ttl).resolve_axis(x="independent").properties(
        width=62, height=84)
    if k == 0:
        ch = ch.properties(title=letter("J", 1, True))
    return ch


# ======================= ASSEMBLY =======================
A = panel_a()
B = panel_b()
C = dot_panel("C", "GO enrichment", go_terms, go_score, go_count, go_pvalue, go_highlight,
              [4.35, 6.35], [4.5, 5.0, 5.5, 6.0], [0, 160], [1, 48], [50, 100, 150],
              [0, 3.6e-5], [1e-5, 2e-5, 3e-5], "replace(format(datum.value, '.0e'), 'e-', 'e-0')", 86, 122)
D = dot_panel("D", "Pathway analysis", kegg_terms, kegg_score, kegg_count, kegg_pvalue, kegg_highlight,
              [1.85, 6.0], [2.0, 3.0, 4.0, 5.0], [0, 35], [2, 50], [10, 20, 30],
              [0, 7.8e-3], [0.002, 0.004, 0.006], "format(datum.value, '.3f')", 76, 122)
row1 = alt.hconcat(A, B, C, D, spacing=2).resolve_scale(
    color="independent", size="independent").resolve_legend(color="independent", size="independent")

F_W = 470
F = broken_bar("F", chip_genes, mrna_vals, mrna_errs, mrna_stars, mrna_brackets,
               [26, 100], [0, 25], [40, 60, 80, 100], [0, 5, 10, 15, 20], 48, 70, F_W, 9, "mRNA",
               (legend_box("IP-NONO", F_W - 52, 0), None), (None, legend_box("IP-IgG", F_W - 46, 4)))
row2 = alt.hconcat(panel_e(), F, spacing=4).resolve_scale(
    color="independent", fill="independent").resolve_legend(color="independent", fill="independent")

row3 = alt.hconcat(*[panel_g(k) for k in range(len(decay_genes))], spacing=2).resolve_scale(
    color="independent", shape="independent").resolve_legend(color="independent", shape="independent")

I_W = 466
I = broken_bar("I", chip_genes, pre_vals, pre_errs, pre_stars, pre_brackets,
               [4.5, 20.5], [0, 5.0], [10, 15, 20], [0, 1, 2, 3, 4], 56, 56, I_W, 7, "pre-mRNA",
               (legend_box("IP-NONO", I_W - 66, 0), legend_box("IP-IgG", I_W - 160, 0)), (None, None))
row4 = alt.hconcat(panel_h(), I, spacing=12).resolve_scale(
    color="independent", fill="independent").resolve_legend(color="independent", fill="independent")

row5 = alt.hconcat(*[panel_j(k) for k in range(len(ratio_genes))], spacing=10)

v12 = alt.vconcat(row1, row2, spacing=2)
v123 = alt.vconcat(v12, row3, spacing=8)
v1234 = alt.vconcat(v123, row4, spacing=12)
chart = alt.vconcat(v1234, row5, spacing=20).properties(padding=0).configure(
    font=FONT).configure_view(stroke=None).configure_axis(
    labelFontSize=7, titleFontSize=7.5, titleFontWeight="normal", labelColor="black", titleColor="black",
    domainColor="black", tickColor="black", tickSize=3, labelPadding=1.5, titlePadding=3, grid=False,
    labelFont=FONT, titleFont=FONT).configure_legend(
    labelFont=FONT, titleFont=FONT, labelFontSize=7, titleFontSize=7, titleFontWeight="normal",
    padding=0).configure_title(font=FONT)

chart.save("out.html", embed_options={"renderer": "svg", "actions": False})
